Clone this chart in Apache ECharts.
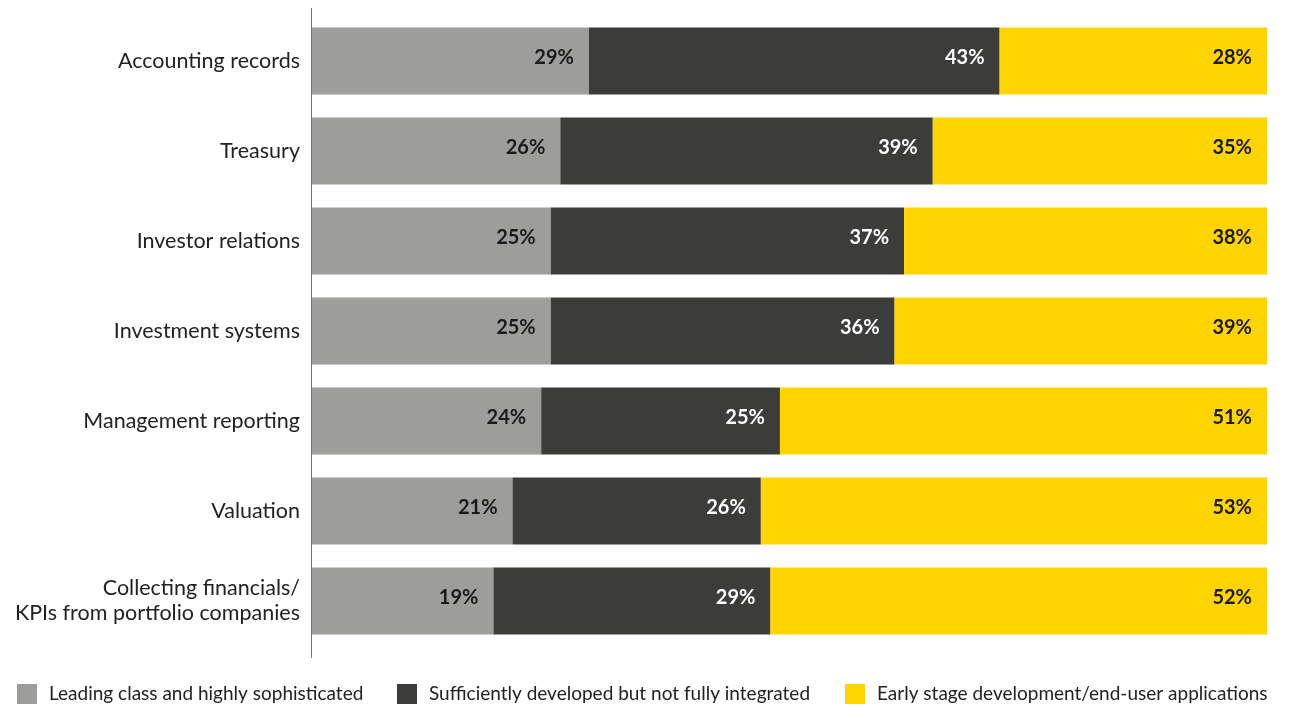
<!DOCTYPE html>
<html><head><meta charset="utf-8">
<script src="https://cdn.jsdelivr.net/npm/echarts@6/dist/echarts.min.js"></script>
<style>html,body{margin:0;padding:0;background:#fff}#c{width:1289px;height:706px}</style>
</head><body><div id="c"></div>
<script>
const categories = ['Accounting records','Treasury','Investor relations','Investment systems','Management reporting','Valuation','Collecting financials/\nKPIs from portfolio companies'];
const leading = [29,26,25,25,24,21,19];
const sufficient = [43,39,37,36,25,26,29];
const early = [28,35,38,39,51,53,52];
const seriesNames = ['Leading class and highly sophisticated','Sufficiently developed but not fully integrated','Early stage development/end-user applications'];
const colors = ['#9d9d9b','#3c3c3b','#ffd400'];
const labelColors = ['#1a1a1a','#ffffff','#1a1a1a'];
const FONT = 'Lato';
const chart = echarts.init(document.getElementById('c'));
const data = [leading, sufficient, early];
const legendLefts = [17, 397, 845];
chart.setOption({
  animation:false,
  textStyle:{fontFamily:FONT},
  grid:{left:312,right:22,top:16,height:630,containLabel:false},
  xAxis:{type:'value',min:0,max:100,show:false},
  yAxis:{type:'category',data:categories,inverse:true,
    axisLine:{show:false},axisTick:{show:false},
    axisLabel:{fontFamily:FONT,fontSize:21.5,color:'#222',margin:12,lineHeight:25,align:'right',padding:[0,0,4,0]}},
  legend: seriesNames.map((n,i)=>({top:684,left:legendLefts[i],padding:0,itemWidth:20,itemHeight:20,icon:'rect',
    textStyle:{fontFamily:FONT,fontSize:19,color:'#222',padding:[0,0,0,7]},
    data:[n]})),
  graphic:[{type:'line',shape:{x1:311.5,y1:8,x2:311.5,y2:658},style:{stroke:'#777',lineWidth:1},z:10}],
  series: data.map((d,i)=>({
    name:seriesNames[i],type:'bar',stack:'a',data:d,barWidth:67,
    itemStyle:{color:colors[i]},
    label:{show:true,position:'insideRight',offset:[-10,-3],formatter:'{c}%',
      fontFamily:FONT,fontWeight:'bold',fontSize:20,color:labelColors[i]}
  }))
});
</script></body></html>
